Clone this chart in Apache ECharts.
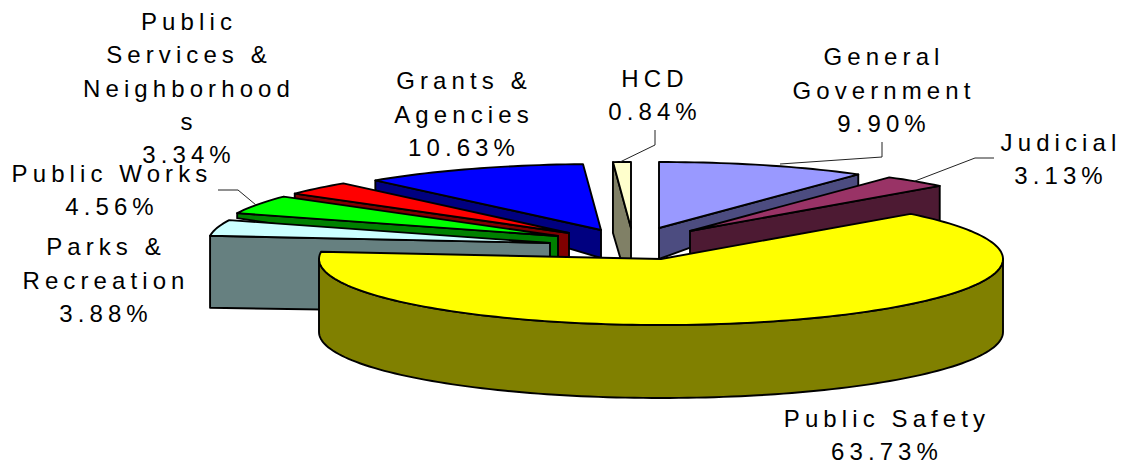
<!DOCTYPE html>
<html>
<head>
<meta charset="utf-8">
<style>
  html, body { margin: 0; padding: 0; background: #fff; }
  #chart { width: 1125px; height: 465px; }
  /* Wide tracking on all chart labels */
  #chart svg text { letter-spacing: 5.1px; }
</style>
<script src="https://cdn.jsdelivr.net/npm/echarts@6/dist/echarts.min.js"></script>
</head>
<body>
<div id="chart"></div>
<script>
// Budget shares, clockwise from twelve o'clock
const sliceNames = ['General Government', 'Judicial', 'Public Safety', 'Parks & Recreation',
  'Public Works', 'Public Services & Neighborhoods', 'Grants & Agencies', 'HCD'];
const sliceValues = [9.90, 3.13, 63.73, 3.88, 4.56, 3.34, 10.63, 0.84];
const labelLines = [
  ['General', 'Government'],
  ['Judicial'],
  ['Public Safety'],
  ['Parks &', 'Recreation'],
  ['Public Works'],
  ['Public', 'Services &', 'Neighborhood', 's'],
  ['Grants &', 'Agencies'],
  ['HCD']
];

// Colours of the top faces and of the side walls
const faceColors = ['#9999FF', '#993366', '#FFFF00', '#CCFFFF', '#00FF00', '#FF0000', '#0000FF', '#FFFFCC'];
const wallColors = ['#4C4C80', '#4D1A33', '#808000', '#668080', '#008000', '#800000', '#000080', '#808066'];

// Pie ellipse
const CX = 661, CY = 259, RX = 342, RY = 66;
// How far each slice is pulled away from the centre
const pullX = [-2, 29, 0, -111, -103, -92, -60, -30];
const pullY = [-31, -28, 0, -16, -23, -26, -29, -31];
// Wall heights at the tip and at the rim of each slice
const tipDepth = [31, 30, 73, 70, 30, 30, 28, 66];
const rimDepth = [12, 50, 73, 72, 5, 5, 10, 71];
// Back to front
const drawOrder = [0, 1, 7, 6, 5, 4, 3, 2];

// Label centres and leader lines
const labelX = [884, 1061, 887, 106, 112, 189, 464, 655];
const labelY = [90, 159, 435, 280, 190, 88, 114, 95];
const leaders = [
  [[882, 142], [882, 157], [780, 164]],
  [[994, 158], [975, 158], [915, 181]],
  null,
  null,
  [[218, 190], [238, 190], [256, 205]],
  null,
  null,
  [[655, 130], [655, 145], [620, 162]]
];

const LINE_HEIGHT = 33.4;
const total = sliceValues.reduce((a, b) => a + b, 0);
const startAngles = [];
sliceValues.reduce((acc, v, i) => { startAngles[i] = acc; return acc + v / total * 360; }, 0);
const rad = d => d * Math.PI / 180;

function rimPoint(i, deg) {
  return [CX + pullX[i] + RX * Math.sin(rad(deg)), CY + pullY[i] - RY * Math.cos(rad(deg))];
}
function arcPoints(i, from, to) {
  const pts = [];
  const n = Math.max(2, Math.ceil(Math.abs(to - from) / 1.5));
  for (let k = 0; k <= n; k++) pts.push(rimPoint(i, from + (to - from) * k / n));
  return pts;
}

const edgeStyle = { stroke: '#000', lineWidth: 1.9, lineJoin: 'round' };

function sliceShapes(i) {
  const a0 = startAngles[i];
  const a1 = a0 + sliceValues[i] / total * 360;
  const tip = [CX + pullX[i], CY + pullY[i]];
  let wall;
  if (a0 < 90 && a1 > 270) {
    // Large slice: the wall follows the front of the rim
    const top = arcPoints(i, 90, 270);
    const bottom = top.map(p => [p[0], p[1] + rimDepth[i]]).reverse();
    wall = top.concat(bottom);
  } else {
    // Small slice: the wall stands on the radial edge that faces the viewer
    const edge = (a0 + a1) / 2 < 180 ? a1 : a0;
    const rim = rimPoint(i, edge);
    wall = [tip, rim, [rim[0], rim[1] + rimDepth[i]], [tip[0], tip[1] + tipDepth[i]]];
  }
  const face = [tip].concat(arcPoints(i, a0, a1));
  return [
    { type: 'polygon', shape: { points: wall }, style: Object.assign({ fill: wallColors[i] }, edgeStyle) },
    { type: 'polygon', shape: { points: face }, style: Object.assign({ fill: faceColors[i] }, edgeStyle) }
  ];
}

function labelShapes(i) {
  const children = [];
  if (leaders[i]) {
    children.push({
      type: 'polyline',
      shape: { points: leaders[i] },
      style: { stroke: '#222', lineWidth: 1, fill: null }
    });
  }
  children.push({
    type: 'text',
    style: {
      text: labelLines[i].concat(sliceValues[i].toFixed(2) + '%').join('\n'),
      x: labelX[i],
      y: labelY[i],
      align: 'center',
      verticalAlign: 'middle',
      lineHeight: LINE_HEIGHT,
      font: '24px "Liberation Sans", Arial, sans-serif',
      fill: '#000'
    }
  });
  return children;
}

const chart = echarts.init(document.getElementById('chart'), null, { renderer: 'svg' });
chart.setOption({
  backgroundColor: '#fff',
  animation: false,
  series: [
    {
      type: 'custom',
      coordinateSystem: 'none',
      silent: true,
      z: 2,
      data: drawOrder.map(i => ({ name: sliceNames[i], value: sliceValues[i] })),
      renderItem: params => ({ type: 'group', children: sliceShapes(drawOrder[params.dataIndex]) })
    },
    {
      type: 'custom',
      coordinateSystem: 'none',
      silent: true,
      z: 3,
      data: sliceNames.map((n, i) => ({ name: n, value: sliceValues[i] })),
      renderItem: params => ({ type: 'group', children: labelShapes(params.dataIndex) })
    }
  ]
});
</script>
</body>
</html>
